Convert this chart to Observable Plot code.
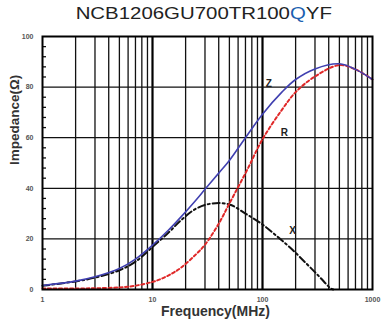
<!DOCTYPE html>
<html><head><meta charset="utf-8">
<script src="https://cdn.jsdelivr.net/npm/d3@7"></script>
<script src="https://cdn.jsdelivr.net/npm/@observablehq/plot@0.6"></script>
<style>
body{margin:0;background:#fff;font-family:"Liberation Sans",Arial,sans-serif;}
#title{height:28px;line-height:28px;width:385px;box-sizing:border-box;padding-left:23px;text-align:center;font-size:17px;color:#222;}
#title .t{display:inline-block;transform:scaleX(1.2);}
</style></head><body>
<div id="title"><span class="t">NCB1206GU700TR100<span style="color:#1c5fb0">Q</span>YF</span></div>
<div id="chart"></div>
<script>
// Z curve (|Z|)
const freqZ = [1, 2, 3, 5, 7, 10, 14, 18, 25, 30, 40, 50, 70, 100, 150, 200, 300, 500, 700, 1000];
const valZ  = [1.6, 3.3, 5, 8.3, 12, 17.5, 23.5, 28.5, 35.5, 39.6, 46, 51, 60, 69.3, 78, 83, 87.2, 89.2, 87, 83];
// R curve
const freqR = [1, 2, 3, 5, 7, 10, 12, 15, 18, 25, 30, 40, 50, 72, 100, 150, 200, 300, 500, 700, 1000];
const valR  = [0.4, 0.4, 0.5, 0.8, 1.5, 3, 4.2, 6.3, 8.5, 14, 17.7, 26, 34, 47, 59.4, 71, 78, 84.2, 88.7, 87, 83];
// X curve
const freqX = [1, 2, 3, 5, 7, 10, 14, 18, 25, 35, 50, 70, 100, 140, 180, 250, 330, 415, 440];
const valX  = [1.5, 3.2, 4.7, 7.6, 11, 16.8, 22.5, 27.2, 32, 34, 33.6, 30, 25.7, 20.5, 16.4, 10.3, 5, 0.5, 0];
// curve labels
const curveLabels = ["Z", "R", "X"];
const labelFreq = [114, 158, 188];
const labelVal = [81.3, 61.8, 23.3];
// ticks
const xTicks = [1, 10, 100, 1000];
const yTicks = [0, 20, 40, 60, 80, 100];
const yGrid = [20, 40, 60, 80];
const yMinor = [4, 8, 12, 16, 24, 28, 32, 36, 44, 48, 52, 56, 64, 68, 72, 76, 84, 88, 92, 96];
const decadeLines = [10, 100];
const multipliers = [2, 3, 4, 5, 6, 7, 8, 9];
const decadeStarts = [1, 10, 100];
const xGrid = decadeStarts.flatMap(d => multipliers.map(m => d * m));

const toRows = (f, v) => f.map((x, i) => ({f: x, v: v[i]}));
const rowsZ = toRows(freqZ, valZ), rowsR = toRows(freqR, valR), rowsX = toRows(freqX, valX);
const labelRows = curveLabels.map((t, i) => ({t, f: labelFreq[i], v: labelVal[i]}));

const W = 385, ML = 42, MR = 13;
const chart = Plot.plot({
  width: W, height: 305,
  marginTop: 8, marginBottom: 44, marginLeft: ML, marginRight: MR,
  style: {fontFamily: "Liberation Sans, Arial, sans-serif", background: "#fff"},
  x: {type: "log", domain: [1, 1000]},
  y: {domain: [0, 100]},
  marks: [
    Plot.ruleX(xGrid, {stroke: "#111", strokeWidth: 1.3}),
    Plot.ruleX(decadeLines, {stroke: "#000", strokeWidth: 2.2}),
    Plot.ruleY(yGrid, {stroke: "#111", strokeWidth: 1.3}),
    Plot.tickY(yMinor, {y: d => d, stroke: "#111", strokeWidth: 1.3, insetRight: W - ML - MR - 4}),
    Plot.line(rowsX, {x: "f", y: "v", stroke: "#111", strokeWidth: 2, strokeDasharray: "7,3,2,3", curve: "catmull-rom"}),
    Plot.line(rowsR, {x: "f", y: "v", stroke: "#e02828", strokeWidth: 2, strokeDasharray: "3,2.5", curve: "catmull-rom"}),
    Plot.line(rowsZ, {x: "f", y: "v", stroke: "#4040b0", strokeWidth: 1.6, curve: "catmull-rom"}),
    Plot.text(labelRows, {x: "f", y: "v", text: "t", fontSize: 10, fontWeight: "bold", fill: "#222"}),
    Plot.frame({stroke: "#000", strokeWidth: 2}),
    Plot.axisY(yTicks, {anchor: "left", tickSize: 0, tickPadding: 9, fontSize: 7, fontWeight: "bold", fill: "#555", label: null}),
    Plot.axisX(xTicks, {anchor: "bottom", tickSize: 0, tickPadding: 8, fontSize: 7, fontWeight: "bold", fill: "#555", label: null, tickFormat: d => String(d)}),
    Plot.text(["Impedance(Ω)"], {frameAnchor: "left", rotate: -90, dx: -28, dy: 2, fontSize: 13.5, fontWeight: "bold", fill: "#333"}),
    Plot.text(["Frequency(MHz)"], {frameAnchor: "bottom", dx: 8, dy: 26, fontSize: 14, fontWeight: "bold", fill: "#333"})
  ]
});
document.getElementById("chart").appendChild(chart);
</script>
</body></html>
